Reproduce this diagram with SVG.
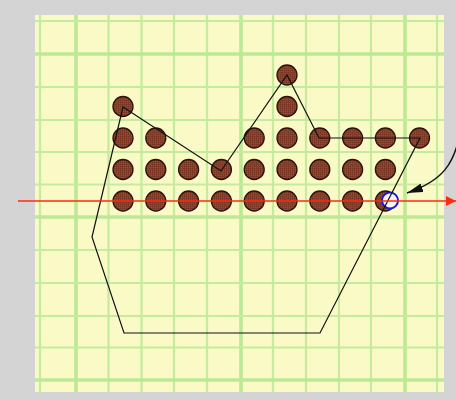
<svg xmlns="http://www.w3.org/2000/svg" width="456" height="400" viewBox="0 0 456 400">
<style>
.thin{stroke:#c4eb9e;stroke-width:2.2;}
.thick{stroke:#bde896;stroke-width:3.6;}
.dot{fill:url(#hatch);stroke:#2a1208;stroke-width:1.3;}
.poly{fill:none;stroke:#111;stroke-width:1.2;}
</style>
<defs>
<pattern id="hatch" width="2" height="2" patternUnits="userSpaceOnUse">
<rect width="2" height="2" fill="#a04a32"/>
<rect width="2" height="0.6" fill="#74301f"/>
<rect width="0.6" height="2" fill="#74301f"/>
</pattern>
<marker id="redHead" viewBox="0 0 10 10" refX="10" refY="5" markerWidth="10" markerHeight="10" markerUnits="userSpaceOnUse" orient="auto">
<path d="M0,0 L10,5 L0,10 z" fill="#ff2a10"/>
</marker>
<marker id="blackHead" viewBox="0 0 16 9" refX="16" refY="4.5" markerWidth="16" markerHeight="9" markerUnits="userSpaceOnUse" orient="auto">
<path d="M0,0 L16,4.5 L0,9 z" fill="#111"/>
</marker>
</defs>
<rect width="456" height="400" fill="#d4d4d4"/>
<rect x="35" y="15" width="409" height="377" fill="#fafac6"/>
<g id="grid">
<line class="thin" x1="40" y1="15" x2="40" y2="392"/>
<line class="thick" x1="76" y1="15" x2="76" y2="392"/>
<line class="thin" x1="108.5" y1="15" x2="108.5" y2="392"/>
<line class="thin" x1="141.5" y1="15" x2="141.5" y2="392"/>
<line class="thin" x1="174" y1="15" x2="174" y2="392"/>
<line class="thin" x1="207" y1="15" x2="207" y2="392"/>
<line class="thick" x1="241" y1="15" x2="241" y2="392"/>
<line class="thin" x1="273" y1="15" x2="273" y2="392"/>
<line class="thin" x1="306" y1="15" x2="306" y2="392"/>
<line class="thin" x1="339" y1="15" x2="339" y2="392"/>
<line class="thin" x1="371" y1="15" x2="371" y2="392"/>
<line class="thick" x1="405" y1="15" x2="405" y2="392"/>
<line class="thin" x1="437" y1="15" x2="437" y2="392"/>
<line class="thin" x1="35" y1="21" x2="444" y2="21"/>
<line class="thick" x1="35" y1="54" x2="444" y2="54"/>
<line class="thin" x1="35" y1="87" x2="444" y2="87"/>
<line class="thin" x1="35" y1="120" x2="444" y2="120"/>
<line class="thin" x1="35" y1="152" x2="444" y2="152"/>
<line class="thin" x1="35" y1="184.5" x2="444" y2="184.5"/>
<line class="thick" x1="35" y1="217" x2="444" y2="217"/>
<line class="thin" x1="35" y1="250" x2="444" y2="250"/>
<line class="thin" x1="35" y1="283" x2="444" y2="283"/>
<line class="thin" x1="35" y1="316" x2="444" y2="316"/>
<line class="thin" x1="35" y1="347.5" x2="444" y2="347.5"/>
<line class="thick" x1="35" y1="380" x2="444" y2="380"/>
</g>
<g id="dots">
<circle class="dot" cx="123" cy="106.5" r="10"/>
<circle class="dot" cx="287" cy="75" r="10"/>
<circle class="dot" cx="287" cy="106.5" r="10"/>
<circle class="dot" cx="123" cy="138" r="10"/>
<circle class="dot" cx="155.8" cy="138" r="10"/>
<circle class="dot" cx="254.2" cy="138" r="10"/>
<circle class="dot" cx="287" cy="138" r="10"/>
<circle class="dot" cx="319.8" cy="138" r="10"/>
<circle class="dot" cx="352.6" cy="138" r="10"/>
<circle class="dot" cx="385.4" cy="138" r="10"/>
<circle class="dot" cx="419.5" cy="138" r="10"/>
<circle class="dot" cx="123" cy="169.5" r="10"/>
<circle class="dot" cx="155.8" cy="169.5" r="10"/>
<circle class="dot" cx="188.6" cy="169.5" r="10"/>
<circle class="dot" cx="221.4" cy="169.5" r="10"/>
<circle class="dot" cx="254.2" cy="169.5" r="10"/>
<circle class="dot" cx="287" cy="169.5" r="10"/>
<circle class="dot" cx="319.8" cy="169.5" r="10"/>
<circle class="dot" cx="352.6" cy="169.5" r="10"/>
<circle class="dot" cx="385.4" cy="169.5" r="10"/>
<circle class="dot" cx="123" cy="201" r="10"/>
<circle class="dot" cx="155.8" cy="201" r="10"/>
<circle class="dot" cx="188.6" cy="201" r="10"/>
<circle class="dot" cx="221.4" cy="201" r="10"/>
<circle class="dot" cx="254.2" cy="201" r="10"/>
<circle class="dot" cx="287" cy="201" r="10"/>
<circle class="dot" cx="319.8" cy="201" r="10"/>
<circle class="dot" cx="352.6" cy="201" r="10"/>
<circle class="dot" cx="385.4" cy="201" r="10"/>
</g>
<g id="marker-circle">
<circle cx="390" cy="200.5" r="8" fill="#ffffff" fill-opacity="0.95" stroke="#1a1adc" stroke-width="2"/>
</g>
<g id="connectors">
<polygon class="poly" points="123,107 221,171 287,75 319,138 420,138 320,333 124,333 92,237"/>
<line x1="18" y1="201" x2="456" y2="201" stroke="#ff2a10" stroke-width="1.5" marker-end="url(#redHead)"/>
<path d="M461,128 C455,165 442,181 407,193" fill="none" stroke="#111" stroke-width="1.5" marker-end="url(#blackHead)"/>
</g>
</svg>
